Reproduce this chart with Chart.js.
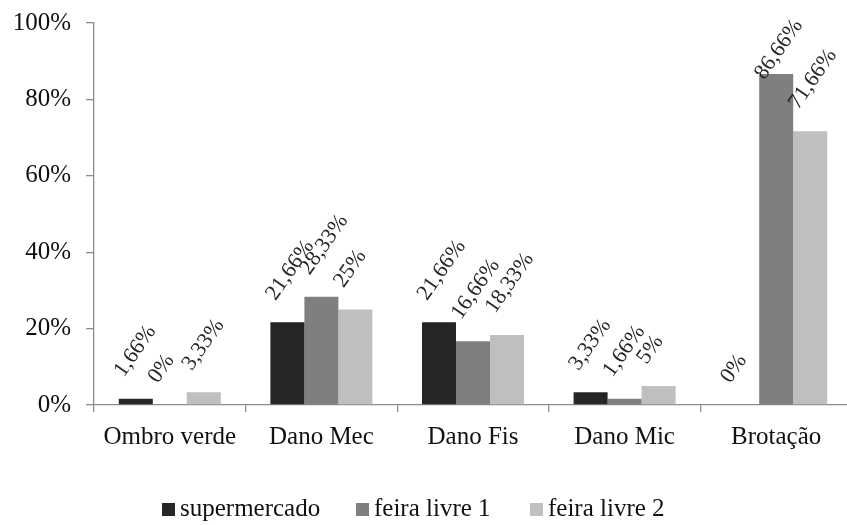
<!DOCTYPE html>
<html>
<head>
<meta charset="utf-8">
<script src="https://cdn.jsdelivr.net/npm/chart.js@4/dist/chart.umd.min.js"></script>
<style>
  html, body { margin: 0; padding: 0; background: #ffffff; overflow: hidden; }
  #wrap { width: 847px; height: 525px; overflow: hidden; }
</style>
</head>
<body>
<div id="wrap"><canvas id="c" width="852" height="525"></canvas></div>
<script>
// Categories and percentages per sales channel
const categories = ['Ombro verde', 'Dano Mec', 'Dano Fis', 'Dano Mic', 'Brotação'];
const supermercado = [1.66, 21.66, 21.66, 3.33, 0];
const feiraLivre1 = [0, 28.33, 16.66, 1.66, 86.66];
const feiraLivre2 = [3.33, 25, 18.33, 5, 71.66];
const seriesNames = ['supermercado', 'feira livre 1', 'feira livre 2'];
const yTickValues = [0, 20, 40, 60, 80, 100];

const SERIF = '"Liberation Serif", "Times New Roman", serif';
const colors = ['#262626', '#7f7f7f', '#bfbfbf'];
const axisColor = '#8c8c8c';

// Percent with a decimal comma
const fmtPct = v => String(v).replace('.', ',') + '%';

// Rotated value labels above each bar
const barValueLabels = {
  id: 'barValueLabels',
  afterDatasetsDraw(chart) {
    const ctx = chart.ctx;
    const theta = 55 * Math.PI / 180;
    ctx.save();
    ctx.font = '22px ' + SERIF;
    ctx.fillStyle = '#262626';
    ctx.textAlign = 'left';
    ctx.textBaseline = 'alphabetic';
    chart.data.datasets.forEach((ds, i) => {
      const meta = chart.getDatasetMeta(i);
      meta.data.forEach((bar, j) => {
        const txt = fmtPct(ds.data[j]);
        const w = ctx.measureText(txt).width;
        const rise = w * Math.sin(theta) + 14 * Math.cos(theta);
        let x = bar.x - 12;
        let y = bar.y - 21;
        // keep the label inside the top of the canvas
        if (y - rise < 17) y = 17 + rise;
        ctx.save();
        ctx.translate(x, y);
        ctx.rotate(-theta);
        ctx.fillText(txt, 0, 0);
        ctx.restore();
      });
    });
    ctx.restore();
  }
};

// Legend row under the plot
const legendRow = {
  id: 'legendRow',
  afterDraw(chart) {
    const ctx = chart.ctx;
    const xs = [162, 356, 530];
    ctx.save();
    ctx.font = '25px ' + SERIF;
    ctx.textAlign = 'left';
    ctx.textBaseline = 'alphabetic';
    chart.data.datasets.forEach((ds, i) => {
      ctx.fillStyle = ds.backgroundColor;
      ctx.fillRect(xs[i], 503, 13, 13);
      ctx.fillStyle = '#111111';
      ctx.fillText(ds.label, xs[i] + 18, 516);
    });
    ctx.restore();
  }
};

const seriesData = [supermercado, feiraLivre1, feiraLivre2];

new Chart(document.getElementById('c'), {
  type: 'bar',
  data: {
    labels: categories,
    datasets: seriesData.map((d, i) => ({
      label: seriesNames[i],
      data: d,
      backgroundColor: colors[i],
      borderWidth: 0,
      categoryPercentage: 0.673,
      barPercentage: 1.0
    }))
  },
  options: {
    responsive: false,
    animation: false,
    devicePixelRatio: 1,
    layout: { padding: { top: 23, right: 0, left: 0, bottom: 0 } },
    plugins: {
      legend: { display: false },
      tooltip: { enabled: false }
    },
    scales: {
      x: {
        offset: true,
        grid: {
          display: true,
          offset: true,
          drawOnChartArea: false,
          drawTicks: true,
          tickLength: 7,
          color: axisColor,
          lineWidth: 1.3
        },
        border: { display: true, color: axisColor, width: 1.3 },
        ticks: {
          color: '#111111',
          font: { family: SERIF, size: 25 },
          padding: 10,
          maxRotation: 0,
          autoSkip: false
        },
        afterFit(scale) { scale.height = 120; }
      },
      y: {
        min: 0,
        max: 100,
        afterBuildTicks(scale) { scale.ticks = yTickValues.map(v => ({ value: v })); },
        grid: {
          display: true,
          drawOnChartArea: false,
          drawTicks: true,
          tickLength: 8,
          color: axisColor,
          lineWidth: 1.3
        },
        border: { display: true, color: axisColor, width: 1.3 },
        ticks: {
          color: '#111111',
          font: { family: SERIF, size: 25 },
          padding: 15,
          callback: v => v + '%'
        },
        afterFit(scale) {
          scale.width = 94;
          scale.paddingTop = 0;
          scale.paddingBottom = 0;
        }
      }
    }
  },
  plugins: [barValueLabels, legendRow]
});
</script>
</body>
</html>
